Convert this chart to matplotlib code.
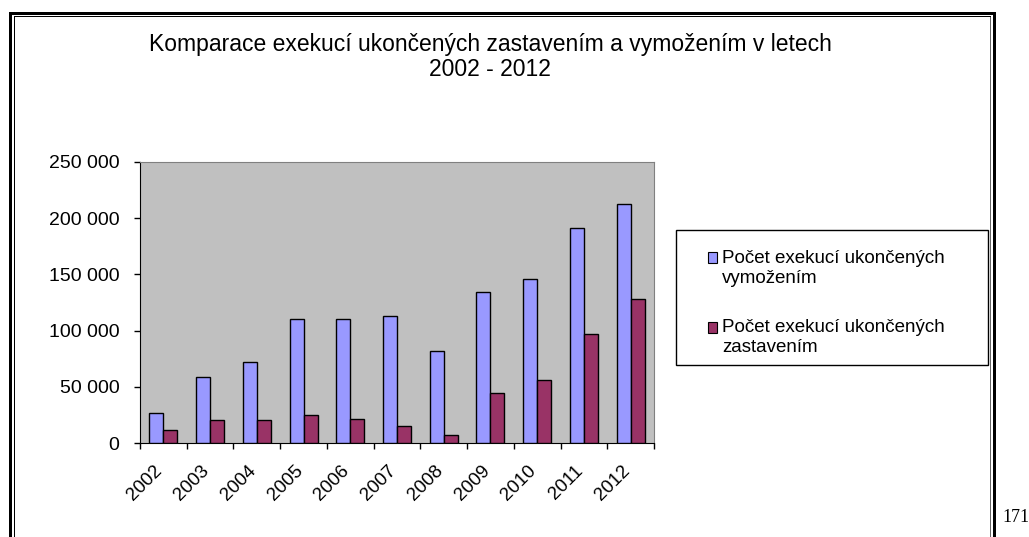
import numpy as np
import matplotlib
matplotlib.use("Agg")
import matplotlib.pyplot as plt
from matplotlib.lines import Line2D
from matplotlib.patches import Rectangle, Patch
from matplotlib.ticker import FuncFormatter, FixedLocator
from matplotlib.transforms import ScaledTranslation
from matplotlib.legend_handler import HandlerPatch

plt.rcParams["font.family"] = ["Liberation Sans", "DejaVu Sans"]

years = ["2002", "2003", "2004", "2005", "2006", "2007",
         "2008", "2009", "2010", "2011", "2012"]
vymozenim = [27000, 59000, 72000, 110500, 110500, 113000,
             82000, 134500, 146000, 191000, 213000]
zastavenim = [11500, 20500, 20500, 25000, 21500, 15000,
              7000, 44500, 56000, 97000, 128000]
labels = ["Počet exekucí ukončených\nvymožením",
          "Počet exekucí ukončených\nzastavením"]
title = "Komparace exekucí ukončených zastavením a vymožením v letech\n2002 - 2012"

W, H = 1029, 537
fig = plt.figure(figsize=(W / 100, H / 100), dpi=100)
fig.patch.set_facecolor("white")


def fx(px):
    return px / W


def fy(py):
    return 1 - py / H


ax = fig.add_axes([fx(140), fy(443), fx(654) - fx(140), fy(162) - fy(443)])
ax.set_facecolor("#C0C0C0")

x = np.arange(len(years))
w = 0.3
ax.bar(x - w / 2, vymozenim, w, color="#9999FF", edgecolor="black", linewidth=1, zorder=3)
ax.bar(x + w / 2, zastavenim, w, color="#993366", edgecolor="black", linewidth=1, zorder=3)

ax.set_xlim(-0.5, len(years) - 0.5)
ax.set_ylim(0, 250000)
ax.set_yticks(np.arange(0, 250001, 50000))
ax.yaxis.set_major_formatter(FuncFormatter(lambda v, p: f"{int(v):,}".replace(",", " ")))
ax.tick_params(axis="y", direction="out", length=4.3, width=1, labelsize=14, pad=10.5,
               colors="black")

ax.set_xticks(x)
ax.set_xticklabels(years, rotation=45, ha="right", va="center", rotation_mode="anchor")
ax.xaxis.set_minor_locator(FixedLocator(np.arange(-0.5, len(years), 1)))
ax.tick_params(axis="x", which="major", length=0, labelsize=13.5, pad=18)
ax.tick_params(axis="x", which="minor", direction="out", length=4.5, width=1)
shift = ScaledTranslation(-3.5 / 100, 0, fig.dpi_scale_trans)
for lab in ax.get_xticklabels():
    lab.set_transform(lab.get_transform() + shift)

ax.spines["left"].set_color("black")
ax.spines["bottom"].set_color("black")
ax.spines["top"].set_color("#808080")
ax.spines["right"].set_color("#808080")

fig.text(fx(490), fy(33), title, ha="center", va="top", fontsize=16.5, linespacing=1.1)

# legend box
fig.add_artist(Rectangle((fx(676), fy(365)), fx(988) - fx(676), fy(230) - fy(365),
                         transform=fig.transFigure, facecolor="white",
                         edgecolor="black", linewidth=1))


def top_square(legend, orig_handle, xdescent, ydescent, width, height, fontsize):
    # put the marker next to the first line of the two-line label
    return Rectangle((-xdescent, -ydescent + 0.55 * fontsize), width, height)


handles = [Patch(facecolor="#9999FF", edgecolor="black", linewidth=0.8),
           Patch(facecolor="#993366", edgecolor="black", linewidth=0.8)]
fig.legend(handles, labels, loc="upper left", bbox_to_anchor=(fx(708), fy(250)),
           frameon=False, fontsize=13.5, handlelength=0.5, handleheight=0.5,
           handletextpad=0.25, labelspacing=1.75, borderpad=0, borderaxespad=0,
           handler_map={Patch: HandlerPatch(patch_func=top_square)})

# page border
for xs, ys, lw in [([fx(9.5), fx(9.5)], [0, fy(12.5)], 3),
                   ([fx(9.5), fx(994)], [fy(12.5), fy(12.5)], 3),
                   ([fx(994), fx(994)], [fy(12.5), 0], 3),
                   ([fx(14), fx(14)], [0, fy(16)], 1),
                   ([fx(14), fx(990)], [fy(16), fy(16)], 1),
                   ([fx(990), fx(990)], [fy(16), 0], 0.6)]:
    fig.add_artist(Line2D(xs, ys, transform=fig.transFigure, color="black", linewidth=lw * 0.72))

fig.text(fx(1002), fy(522), "171", fontsize=13, family=["Liberation Serif"], ha="left",
         va="baseline")

fig.savefig("out.png", dpi=100)
